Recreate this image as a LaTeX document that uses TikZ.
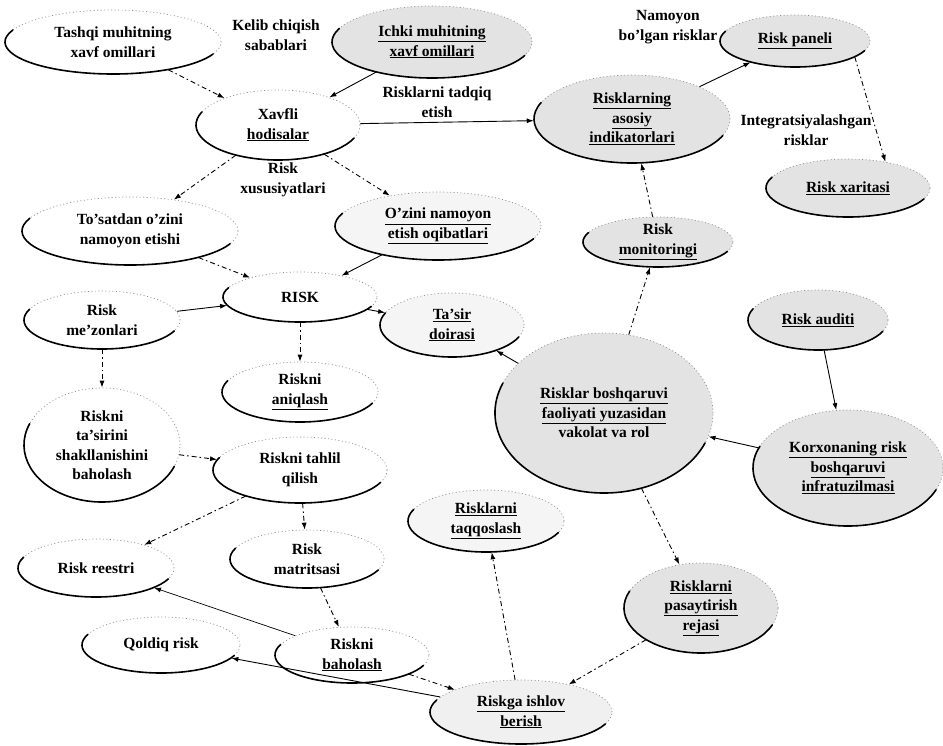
\documentclass[tikz,border=0pt]{standalone}
\usepackage{fontspec}
\setmainfont{Liberation Serif}
\usetikzlibrary{shapes.geometric,arrows.meta}

% one oval of the scheme: name, centre, x-radius, y-radius, fill, text
\newcommand{\blob}[6]{%
  \node[blob, fill=#5, minimum width=2*#3, minimum height=2*#4,
        label={[blobtext]center:{#6}}] (#1) at (#2) {};
  \draw[rim] (#1.center) ++(158:#3 and #4) arc (158:338:#3 and #4);
}
\newcommand{\uln}[1]{\underline{#1}}

\begin{document}
\begin{tikzpicture}[x=1pt,y=-1pt]
\tikzset{
  blob/.style={ellipse, inner sep=0pt, draw=black!45, dash pattern=on 1pt off 2.5pt, line width=0.7pt},
  blobtext/.style={align=center, inner sep=0pt, font=\bfseries\fontsize{15.5}{19.5}\selectfont},
  rim/.style={line width=1.6pt, line cap=round},
  lbl/.style={align=center, font=\bfseries\fontsize{15.5}{19.5}\selectfont},
  link/.style={line width=0.9pt, -{Latex[length=7pt,width=5pt]}},
  dashlink/.style={link, dash pattern=on 5pt off 3pt on 1.5pt off 3pt}
}
\useasboundingbox (0,0) rectangle (943,745);

% ovals
\blob{tashqi}{113,42}{108pt}{32pt}{white}{Tashqi muhitning\\xavf omillari}
\blob{ichki}{432,42}{100pt}{36pt}{gray!22}{\uln{Ichki muhitning}\\\uln{xavf omillari}}
\blob{xavfli}{278,125}{82pt}{35pt}{white}{Xavfli\\\uln{hodisalar}}
\blob{indik}{632,119}{98pt}{44pt}{gray!22}{\uln{Risklarning}\\\uln{asosiy}\\\uln{indikatorlari}}
\blob{panel}{795,41}{75pt}{26pt}{gray!22}{\uln{Risk paneli}}
\blob{xarita}{848,188}{82pt}{29pt}{gray!22}{\uln{Risk xaritasi}}
\blob{tosat}{130,231}{108pt}{34pt}{white}{To'satdan o'zini\\namoyon etishi}
\blob{ozini}{438,226}{103pt}{34pt}{gray!8}{\uln{O'zini namoyon}\\\uln{etish oqibatlari}}
\blob{monitor}{658,242}{75pt}{25pt}{gray!22}{Risk\\\uln{monitoringi}}
\blob{risk}{300,297}{77pt}{25pt}{white}{RISK}
\blob{mezon}{102,320}{78pt}{29pt}{white}{Risk\\me'zonlari}
\blob{tasir}{452,325}{72pt}{32pt}{gray!8}{\uln{Ta'sir}\\\uln{doirasi}}
\blob{boshq}{604,413}{109pt}{80pt}{gray!22}{\uln{Risklar boshqaruvi}\\\uln{faoliyati yuzasidan}\\vakolat va rol}
\blob{audit}{818,320}{70pt}{30pt}{gray!22}{\uln{Risk auditi}}
\blob{korxona}{848,468}{95pt}{58pt}{gray!22}{\uln{Korxonaning risk}\\\uln{boshqaruvi}\\\uln{infratuzilmasi}}
\blob{aniq}{300,392}{78pt}{30pt}{white}{Riskni\\\uln{aniqlash}}
\blob{tabaho}{102,445}{78pt}{57pt}{white}{Riskni\\ta'sirini\\shakllanishini\\baholash}
\blob{tahlil}{300,470}{87pt}{33pt}{white}{Riskni tahlil\\qilish}
\blob{taqqos}{486,521}{78pt}{31pt}{gray!8}{\uln{Risklarni}\\\uln{taqqoslash}}
\blob{reestr}{96,568}{78pt}{29pt}{white}{Risk reestri}
\blob{matr}{307,559}{77pt}{29pt}{white}{Risk\\matritsasi}
\blob{pasay}{701,608}{77pt}{45pt}{gray!22}{\uln{Risklarni}\\\uln{pasaytirish}\\\uln{rejasi}}
\blob{qoldiq}{161,645}{79pt}{28pt}{white}{Qoldiq risk}
\blob{baho}{352,655}{77pt}{28pt}{white}{Riskni\\\uln{baholash}}
\blob{ishlov}{521,712}{91pt}{32pt}{gray!12}{\uln{Riskga ishlov}\\\uln{berish}}

% free labels
\node[lbl] (kelib) at (276,35) {Kelib chiqish\\sabablari};
\node[lbl] (tadqiq) at (437,102) {Risklarni tadqiq\\etish};
\node[lbl] (namoyon) at (668,27) {Namoyon\\bo'lgan risklar};
\node[lbl] (integr) at (806,130) {Integratsiyalashgan\\risklar};
\node[lbl] (xususiyat) at (283,180) {Risk\\xususiyatlari};

% connectors
\draw[dashlink] (tashqi) -- (xavfli);
\draw[link] (ichki) -- (xavfli);
\draw[link] (xavfli) -- (indik);
\draw[link] (indik) -- (panel);
\draw[dashlink] (panel.-15) -- (xarita.35);
\draw[dashlink] (monitor) -- (indik);
\draw[dashlink] (xavfli) -- (tosat);
\draw[dashlink] (xavfli) -- (ozini);
\draw[dashlink] (tosat) -- (risk);
\draw[link] (ozini) -- (risk);
\draw[link] (mezon) -- (risk);
\draw[link] (risk) -- (tasir);
\draw[dashlink] (risk) -- (aniq);
\draw[link] (boshq) -- (tasir);
\draw[dashlink] (boshq) -- (monitor);
\draw[link] (audit) -- (korxona);
\draw[link] (korxona) -- (boshq);
\draw[dashlink] (boshq) -- (pasay);
\draw[dashlink] (pasay) -- (ishlov);
\draw[dashlink] (mezon) -- (tabaho);
\draw[dashlink] (tabaho) -- (tahlil);
\draw[dashlink] (tahlil) -- (reestr);
\draw[dashlink] (tahlil) -- (matr);
\draw[dashlink] (matr) -- (baho);
\draw[link, line width=0.7pt] (baho) -- (reestr);
\draw[dashlink] (baho) -- (ishlov);
\draw[dashlink] (ishlov) -- (taqqos);
\draw[link] (ishlov) -- (qoldiq);
\end{tikzpicture}
\end{document}
